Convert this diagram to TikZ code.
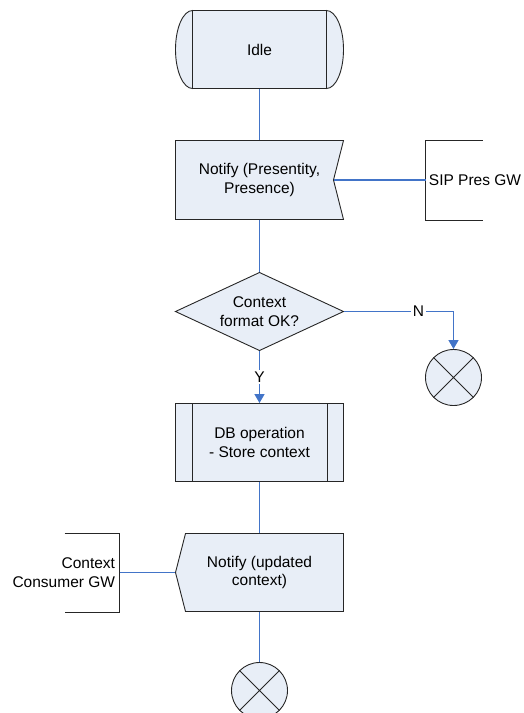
\documentclass[tikz,border=0pt]{standalone}
\usepackage{fontspec}
\setmainfont{Liberation Sans}
\usetikzlibrary{arrows.meta}
\definecolor{boxfill}{RGB}{232,238,247}
\definecolor{flowline}{RGB}{66,116,200}
\tikzset{
  slot/.style={minimum width=168pt, minimum height=78pt, inner sep=0pt, align=center},
  outline/.style={draw=black!85, fill=boxfill},
  flow/.style={color=flowline, line width=1.3pt},
  flowarrow/.style={flow, -{Triangle[width=10pt,length=9pt]}},
  endstate/.style={circle, outline, minimum size=56pt, inner sep=0pt},
  flowlabel/.style={fill=white, text=black, inner sep=1.5pt}
}
\begin{document}
\begin{tikzpicture}[x=1pt,y=-1pt,font=\fontsize{15.5}{18.5}\selectfont,line width=0.9pt]
\useasboundingbox (-0.5,-0.5) rectangle (522.5,712.5);
\filldraw[outline] (192,10) arc[start angle=90,end angle=270,x radius=17pt,y radius=39pt] -- cycle;
\filldraw[outline] (326,10) arc[start angle=90,end angle=-90,x radius=17pt,y radius=39pt] -- cycle;
\filldraw[outline] (192,10) rectangle (326,88);
\filldraw[outline] (175,140) -- (343,140) -- (333,179.5) -- (343,219) -- (175,219) -- cycle;
\filldraw[outline] (259,272) -- (343,311) -- (259,350) -- (175,311) -- cycle;
\filldraw[outline] (185,533) -- (343,533) -- (343,611) -- (185,611) -- (175,572) -- cycle;
\node[slot, minimum width=134pt] (idle) at (259,49) {Idle};
\node[slot, minimum height=79pt] (notify) at (259,179.5) {Notify (Presentity,\\Presence)};
\coordinate (notchin) at ([xshift=-10pt]notify.east);
\node[anchor=west, minimum height=79pt, inner xsep=3pt] (sip) at (425,179.5) {SIP Pres GW};
\node[slot] (check) at (259,311) {Context\\format OK?};
\node[endstate] (endn) at (453,377) {};
\node[slot, outline] (db) at (259,442) {DB operation\\- Store context};
\node[slot] (notify2) at (259,572) {Notify (updated\\context)};
\node[anchor=east, minimum height=78pt, inner xsep=4pt, align=right] (ccgw) at (119,572) {Context\\Consumer GW};
\node[endstate] (end2) at (259,690) {};
\draw[black!85] ([xshift=17pt]db.north west) -- ([xshift=17pt]db.south west);
\draw[black!85] ([xshift=-17pt]db.north east) -- ([xshift=-17pt]db.south east);
\draw[black!85] (endn.45) -- (endn.225) (endn.135) -- (endn.315);
\draw[black!85] (end2.45) -- (end2.225) (end2.135) -- (end2.315);
\draw[black!85] ([xshift=57pt]sip.north west) -- (sip.north west) -- (sip.south west) -- ([xshift=57pt]sip.south west);
\draw[black!85] ([xshift=-55pt]ccgw.north east) -- (ccgw.north east) -- (ccgw.south east) -- ([xshift=-55pt]ccgw.south east);
\draw[flow] (idle.south) -- (notify.north);
\draw[flow] (notchin) -- (sip.west);
\draw[flow] (notify.south) -- (check.north);
\draw[flowarrow] (check.east) -| node[flowlabel, pos=0.34] {N} (endn.north);
\draw[flowarrow] (check.south) -- node[flowlabel] {Y} (db.north);
\draw[flow] (db.south) -- (notify2.north);
\draw[flow] (ccgw.east) -- (notify2.west);
\draw[flow] (notify2.south) -- (end2.north);
\end{tikzpicture}
\end{document}
